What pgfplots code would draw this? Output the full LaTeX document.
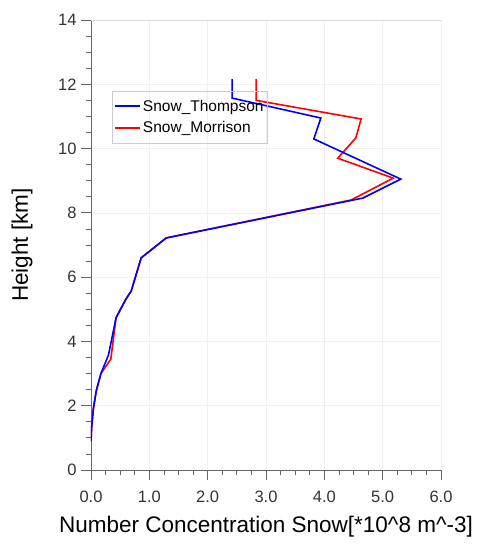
\documentclass[border=0pt]{standalone}
\usepackage{pgfplots}
\pgfplotsset{compat=1.18}
\usepackage{fontspec}
\setmainfont{Liberation Sans}
\begin{document}
\begin{tikzpicture}
\begin{axis}[
  at={(0,0)}, anchor=south west,
  scale only axis, width=350pt, height=450pt,
  xmin=0, xmax=6, ymin=0, ymax=14,
  xtick={0,1,...,6}, ytick={0,2,...,14},
  minor x tick num=3, minor y tick num=3,
  axis lines*=left,
  axis line style={gray!80!black, line width=0.8pt},
  tick style={gray!80!black, line width=0.8pt},
  tick align=outside,
  major tick length=10pt, minor tick length=5pt,
  grid=major, major grid style={gray!12, line width=0.6pt},
  /pgf/number format/assume math mode=true,
  xticklabel style={yshift=-7pt, /pgf/number format/fixed, /pgf/number format/fixed zerofill, /pgf/number format/precision=1},
  yticklabel style={xshift=-1pt},
  ticklabel style={font=\fontsize{16.5}{18}\selectfont, text=black!80},
  xlabel={Number Concentration Snow[*10\^{}8 m\^{}-3]},
  ylabel={Height [km]},
  label style={font=\fontsize{22.5}{26}\selectfont},
  xlabel style={at={(axis description cs:0.5,-0.125)}, anchor=center},
  ylabel style={at={(axis description cs:-0.197,0.5)}, anchor=center},
  legend style={at={(axis description cs:0.06,0.842)}, anchor=north west,
    draw=gray!40, fill=none, font=\fontsize{15.5}{18}\selectfont,
    inner xsep=2pt, inner ysep=6.5pt, row sep=5pt},
  legend cell align=left,
  legend image code/.code={\draw[#1] (0pt,0pt) -- (25pt,0pt);},
]
\addplot[red, line width=1.6pt, forget plot] coordinates {
(2.83,12.16) (2.83,11.50) (4.63,10.92) (4.54,10.33) (4.23,9.70) (5.18,9.08)
(4.46,8.40) (1.29,7.22) (0.86,6.60) (0.69,5.57) (0.60,5.32) (0.43,4.74)
(0.34,3.45) (0.17,3.00) (0.09,2.46) (0.04,1.90) (0.01,1.30) (0.00,0.90)
};
\addplot[blue, line width=1.6pt, forget plot] coordinates {
(2.42,12.16) (2.42,11.57) (3.94,10.95) (3.82,10.30) (5.31,9.05)
(4.66,8.46) (1.29,7.22) (0.86,6.60) (0.69,5.57) (0.60,5.32) (0.43,4.74)
(0.30,3.58) (0.17,3.00) (0.09,2.46) (0.04,1.90) (0.01,1.30) (0.00,0.90)
};
\addlegendimage{blue, line width=1.6pt}
\addlegendentry{Snow\_Thompson}
\addlegendimage{red, line width=1.8pt}
\addlegendentry{Snow\_Morrison}
\draw[gray!30, line width=0.6pt] (rel axis cs:0,1) -- (rel axis cs:1,1) -- (rel axis cs:1,0);
\end{axis}
\pgfresetboundingbox
\useasboundingbox (-91pt,-77pt) rectangle (388pt,470pt);
\end{tikzpicture}
\end{document}
